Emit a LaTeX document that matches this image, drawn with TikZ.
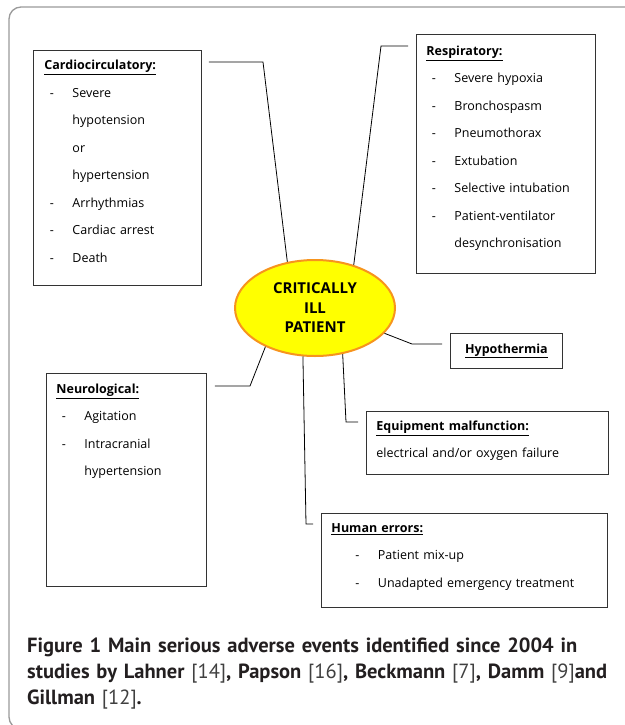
\documentclass[tikz,border=0pt]{standalone}
\usepackage{fontspec}
\setmainfont{Open Sans}
\newfontfamily\capfont{PT Sans}
\usetikzlibrary{calc,positioning,shapes.geometric}
\definecolor{hubfill}{HTML}{FFFF00}
\definecolor{hubline}{HTML}{F7941D}
\definecolor{framegray}{HTML}{9A9A9A}
\definecolor{captext}{HTML}{231F20}
\newcommand{\evhead}[1]{\textbf{\underline{#1}}}
\newcommand{\evitem}[2][5.5pt]{\hspace*{#1}\makebox[22.5pt][l]{-}#2}
\newcommand{\evmore}[1]{\hspace*{28pt}#1}
\newcommand{\evcite}[1]{{\mdseries\color{black!75}#1}}
\tikzset{
  evbox/.style  = {draw=black!80, line width=0.9pt, anchor=north west,
                   inner ysep=0pt, inner xsep=10pt, align=left,
                   font=\fontsize{12.5}{27.5}\selectfont},
  evtag/.style  = {draw=black!80, line width=0.9pt, anchor=north west,
                   inner sep=0pt, font=\fontsize{12.5}{14}\selectfont\bfseries},
  hub/.style    = {ellipse, draw=hubline, fill=hubfill, line width=2pt,
                   minimum width=160pt, minimum height=96pt, inner sep=0pt,
                   align=center, font=\bfseries\fontsize{15}{19.5}\selectfont},
  link/.style   = {draw, line width=0.8pt}
}

\begin{document}
\begin{tikzpicture}[x=1pt,y=-1pt]
\useasboundingbox (0,0) rectangle (624,725);
\fill[white] (0,0) rectangle (624,725);
\draw[framegray, line width=1.3pt, rounded corners=12pt] (9,7) rectangle (640,729);

\node [hub] (hub) at (315,308) {CRITICALLY\\ILL\\PATIENT};

\node [evbox, text width=146pt, inner xsep=11pt, text height=19.5pt, text depth=215.5pt]
  (cardio) at (33,50) {\evhead{Cardiocirculatory:}\\
  \evitem{Severe}\\ \evmore{hypotension}\\ \evmore{or}\\ \evmore{hypertension}\\
  \evitem{Arrhythmias}\\ \evitem{Cardiac arrest}\\ \evitem{Death}};
\node [evbox, text width=159pt, text height=21pt, text depth=218pt]
  (resp) at (416,34) {\evhead{Respiratory:}\\
  \evitem{Severe hypoxia}\\ \evitem{Bronchospasm}\\ \evitem{Pneumothorax}\\
  \evitem{Extubation}\\ \evitem{Selective intubation}\\
  \evitem{Patient-ventilator}\\ \evmore{desynchronisation}};
\node [evtag, minimum width=112pt, minimum height=35pt]
  (hypo) at (450,333) {\underline{Hypothermia}};
\node [evbox, text width=140pt, text height=20pt, text depth=193pt]
  (neuro) at (46,373) {\evhead{Neurological:}\\
  \evitem{Agitation}\\ \evitem{Intracranial}\\ \evmore{hypertension}};
\node [evbox, text width=222pt, text height=19pt, text depth=44pt]
  (equip) at (366,411) {\evhead{Equipment malfunction:}\\
  electrical and/or oxygen failure};
\node [evbox, text width=266pt, text height=19pt, text depth=75pt]
  (human) at (321,513) {\evhead{Human errors:}\\
  \evitem[24pt]{Patient mix-up}\\ \evitem[24pt]{Unadapted emergency treatment}};

% connectors
\coordinate (cardioturn) at (263,62);
\coordinate (cardioend) at ($(cardio.north east)+(7,12)$);
\coordinate (respturn) at (381,46);
\coordinate (respend) at ($(resp.north west)+(-8,12)$);
\coordinate (hypoturn) at (412,344);
\coordinate (hypoend) at ($(hypo.north west)+(-8,11)$);
\coordinate (neuroturn) at (250,386);
\coordinate (neuroend) at ($(neuro.north east)+(8,13)$);
\coordinate (equipturn) at (346,422);
\coordinate (equipend) at ($(equip.north west)+(-8,11)$);
\coordinate (humanturn) at (306,524);
\coordinate (humanend) at ($(human.north west)+(-8,11)$);
\draw [link] (hub.121) -- (cardioturn) -- (cardioend);
\draw [link] (hub.48) -- (respturn) -- (respend);
\draw [link] (hub.-20) -- (hypoturn) -- (hypoend);
\draw [link] (hub.218) -- (neuroturn) -- (neuroend);
\draw [link] (hub.-59) -- (equipturn) -- (equipend);
\draw [link] (hub.256) -- (humanturn) -- (humanend);

\node [anchor=base west, text width=600pt, inner sep=0pt, align=left,
       text=captext, font=\capfont\bfseries\fontsize{20.5}{26}\selectfont]
  (caption) at (27,652) {Figure 1 Main serious adverse events identified since 2004 in\\
  studies by Lahner \evcite{[14]}, Papson \evcite{[16]}, Beckmann \evcite{[7]}, Damm \evcite{[9]}and\\
  Gillman \evcite{[12]}.};
\end{tikzpicture}
\end{document}
